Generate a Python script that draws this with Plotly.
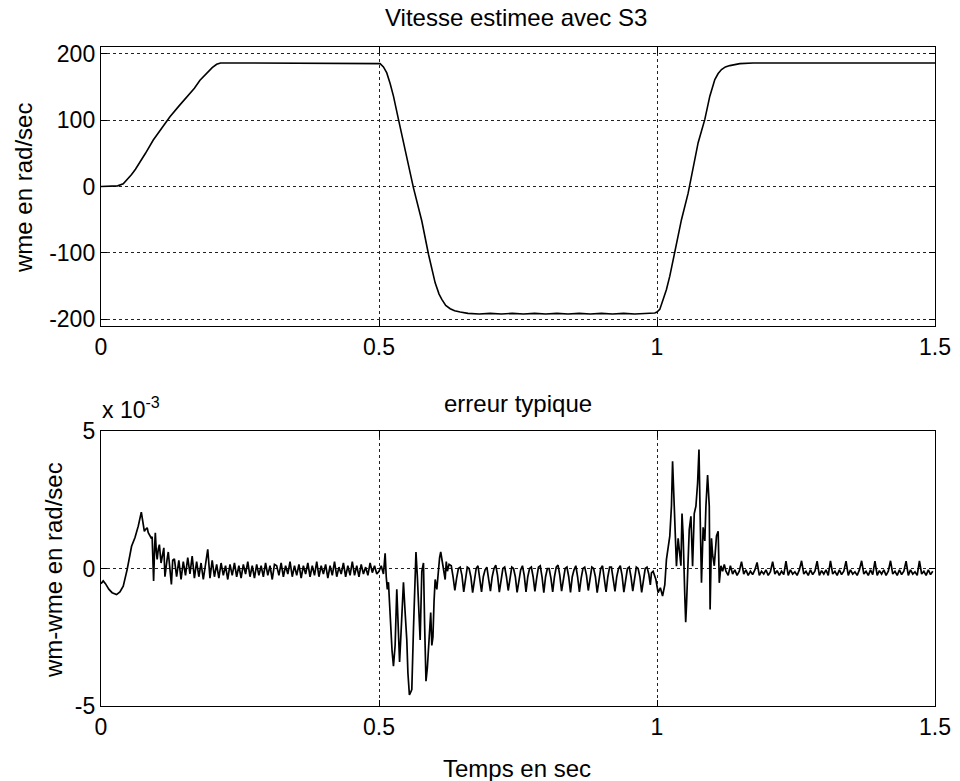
import numpy as np
import plotly.graph_objects as go

# ---------------- estimated speed (rad/sec) ----------------
t_speed = [0.0, 0.02, 0.03, 0.04, 0.047, 0.055, 0.062, 0.07, 0.08, 0.094, 0.11, 0.124,
           0.14, 0.155, 0.168, 0.178, 0.19, 0.2, 0.208, 0.215, 0.225, 0.3, 0.4, 0.495,
           0.502, 0.508, 0.514, 0.52, 0.526, 0.535, 0.547, 0.562, 0.577, 0.589, 0.601,
           0.608, 0.613, 0.62, 0.628, 0.636, 0.646, 0.66,
           0.68, 0.70, 0.72, 0.74, 0.76, 0.78, 0.80, 0.82, 0.84, 0.86, 0.88, 0.90,
           0.92, 0.94, 0.96, 0.98, 0.996,
           1.0, 1.005, 1.011, 1.017, 1.023, 1.032, 1.044, 1.056, 1.065, 1.074, 1.086,
           1.095, 1.104, 1.11, 1.116, 1.123, 1.131, 1.149, 1.173, 1.3, 1.5]
w_speed = [0, 0, 1, 4, 10, 18, 26, 36, 50, 70, 88, 105,
           121, 135, 148, 160, 171, 179, 184, 186, 186, 186, 186, 186,
           185, 180, 171, 155, 136, 101, 56, -2, -52, -102, -145,
           -162, -170, -179, -184, -187, -189, -191,
           -192, -191, -192, -191, -192, -191, -192, -191, -192, -191, -192, -191,
           -192, -191, -192, -191, -190.5,
           -189, -185, -170, -155, -135, -100, -50, -10, 30, 66, 101,
           136, 161, 170, 176, 180, 182, 185, 186, 186, 186]

# ---------------- estimation error (x 1e-3 rad/sec) ----------------
# start-up transient
t_err_a = [0.0, 0.004, 0.008, 0.014, 0.02, 0.028, 0.034, 0.04, 0.047, 0.055, 0.061, 0.067,
           0.0725, 0.0755, 0.078, 0.08, 0.083, 0.085, 0.087, 0.09, 0.092, 0.0946, 0.0965,
           0.0977, 0.0995, 0.101, 0.103, 0.105, 0.108, 0.11, 0.113, 0.115, 0.117, 0.119,
           0.121, 0.124, 0.1266, 0.129]
err_a = [-0.55, -0.45, -0.55, -0.75, -0.88, -0.95, -0.85, -0.64, -0.04, 0.81, 1.12, 1.54,
         2.05, 1.66, 1.35, 1.42, 1.48, 1.30, 1.24, 1.12, 1.15, -0.45, 0.80,
         1.30, 0.60, 0.33, 0.70, 0.87, 0.20, 0.40, 0.75, -0.30, 0.10, 0.35,
         0.60, 0.00, -0.58, 0.30]

# steady state at +186 rad/sec (sampled every 4 ms from t = 0.132)
err_b = [0.35, -0.30, 0.30, -0.40, 0.25, -0.25, 0.40, -0.20, 0.45, -0.35, 0.25, -0.30,
         0.20, -0.40, 0.25, 0.70,
         -0.35, 0.30, -0.30, 0.15, -0.35, 0.20, -0.25, 0.10, -0.40, 0.15, -0.25, 0.20,
         -0.30, 0.10, -0.35, 0.15, -0.20, 0.25, -0.30, 0.10, -0.35, 0.15, -0.25, 0.10,
         -0.30, 0.20, -0.25, 0.10, -0.40, 0.15,
         0.10, -0.25, 0.20, -0.30, 0.10, -0.20, 0.25, -0.30, 0.10, -0.25, 0.15, -0.35,
         0.10, -0.20, 0.20, -0.30, 0.10, -0.25, 0.25, -0.30, 0.10, -0.20, 0.15, -0.35,
         0.10, -0.25, 0.25, -0.30, 0.05, -0.20, 0.20, -0.30, 0.10, -0.25, 0.25, -0.25,
         0.10, -0.30, 0.15, -0.20, 0.05, -0.25, 0.20, -0.15, 0.10, -0.20]

# reversal +186 -> -190
t_err_c = [0.500, 0.504, 0.508, 0.511, 0.513, 0.515, 0.517, 0.519, 0.521, 0.5235, 0.526,
           0.529, 0.532, 0.535, 0.537, 0.539, 0.541, 0.544, 0.547, 0.550, 0.552, 0.5547,
           0.557, 0.559, 0.562, 0.564, 0.5665, 0.569, 0.572, 0.574, 0.577, 0.580, 0.582,
           0.5845, 0.587, 0.589, 0.591, 0.593, 0.595, 0.597, 0.599, 0.601, 0.604, 0.607,
           0.609, 0.611, 0.613, 0.615, 0.617, 0.619, 0.621, 0.623, 0.626]
err_c = [-0.10, 0.10, -0.20, 0.55, -0.30, -0.76, -0.50, -1.40, -2.20, -3.00, -3.55,
         -2.80, -0.76, -2.50, -3.40, -2.60, -1.90, -0.50, -1.60, -2.60, -3.80, -4.60,
         -4.50, -4.40, -2.20, -1.00, 0.60, -0.30, -1.80, -2.60, -0.10, 0.20, -2.00,
         -4.10, -3.60, -3.00, -2.20, -1.60, -2.80, -2.50, -1.20, -0.40, -0.76, 0.10,
         0.40, 0.60, 0.30, 0.20, -0.20, -0.40, 0.25, -0.10, 0.15]

# steady state at -190 rad/sec (sampled every 3.2 ms from t = 0.630)
err_d = [0.10, -0.30, -0.80, -0.35, 0.00,
         0.05, -0.25, -0.85, -0.30, 0.05,
         0.00, -0.30, -0.88, -0.35, 0.00,
         0.10, -0.30, -0.85, -0.30, -0.05,
         0.05, -0.35, -0.82, -0.30, 0.00,
         0.12, -0.25, -0.86, -0.35, 0.00,
         0.05, -0.30, -0.80, -0.30, 0.05,
         0.00, -0.30, -0.87, -0.35, -0.05,
         0.10, -0.25, -0.85, -0.30, 0.00,
         0.05, -0.30, -0.83, -0.35, 0.05,
         0.10, -0.30, -0.88, -0.30, 0.00,
         0.00, -0.35, -0.85, -0.30, 0.05,
         0.12, -0.25, -0.82, -0.35, 0.00,
         0.05, -0.30, -0.87, -0.30, -0.05,
         0.10, -0.30, -0.85, -0.35, 0.00,
         0.05, -0.25, -0.80, -0.30, 0.05,
         0.00, -0.30, -0.88, -0.35, 0.00,
         0.10, -0.30, -0.85, -0.30, 0.05,
         0.05, -0.35, -0.83, -0.30, 0.00,
         0.10, -0.25, -0.86, -0.35, 0.00,
         0.05, -0.30, -0.82, -0.30, 0.05,
         0.00, -0.30, -0.87, -0.35, 0.00,
         0.05, -0.20]

# reversal -190 -> +186
t_err_e = [0.988, 0.990, 0.993, 0.998, 1.002, 1.006, 1.010, 1.014, 1.017, 1.020, 1.023,
           1.026, 1.028, 1.031, 1.033, 1.035, 1.038, 1.041, 1.043, 1.045, 1.047, 1.050,
           1.0516, 1.053, 1.056, 1.058, 1.061, 1.064, 1.067, 1.070, 1.073, 1.0755, 1.078,
           1.080, 1.083, 1.086, 1.088, 1.091, 1.094, 1.0955, 1.098, 1.100, 1.103, 1.105,
           1.107, 1.110, 1.112, 1.115, 1.118, 1.121]
err_e = [-0.60, -0.16, -0.10, -0.40, -0.88, -0.70, -1.00, -0.60, 0.33, 0.81, 1.18,
         2.27, 3.90, 2.27, 1.18, 0.08, 1.10, 0.60, 0.10, 2.00, 1.20, -1.00,
         -1.95, -1.35, 0.08, 1.42, 1.90, 0.08, 2.00, 2.27, 3.10, 4.33, 1.50,
         -0.52, 1.50, 1.00, 2.27, 3.40, 2.27, -1.49, 1.10, 0.50, 0.10, 0.90,
         1.18, 1.35, -0.52, 0.10, -0.10, 0.15]

# steady state at +186 rad/sec (sampled every 4 ms from t = 1.124)
err_f = [-0.10, -0.25, 0.10, -0.20, -0.05, -0.25, -0.10,
         0.25, -0.20, -0.05, -0.25, -0.10, -0.22, -0.05,
         0.22, -0.25, -0.10, -0.20, -0.05, -0.25, -0.12,
         0.25, -0.20, -0.08, -0.25, -0.10, -0.22,
         0.27, -0.25, -0.05, -0.20, -0.12, -0.25, -0.05,
         0.28, -0.20, -0.10, -0.25, -0.05, -0.22, -0.10,
         0.27, -0.25, -0.08, -0.20, -0.05, -0.25,
         0.28, -0.20, -0.10, -0.25, -0.05, -0.22, -0.10,
         0.27, -0.25, -0.05, -0.20, -0.12, -0.25, -0.05,
         0.28, -0.20, -0.10, -0.25, -0.05, -0.22,
         0.27, -0.25, -0.08, -0.20, -0.05, -0.25, -0.10,
         0.28, -0.20, -0.10, -0.25, -0.05, -0.22, -0.10,
         0.27, -0.25, -0.05, -0.20, -0.12, -0.25,
         0.28, -0.20, -0.10, -0.25, -0.05, -0.22, -0.10]

x_ticks = [0, 0.5, 1, 1.5]
x_ticktext = ["0", "0.5", "1", "1.5"]
y1_ticks = [-200, -100, 0, 100, 200]
y1_ticktext = ["-200", "-100", "0", "100", "200"]
y2_ticks = [-5, 0, 5]
y2_ticktext = ["-5", "0", "5"]

# sample times of the uniformly sampled stretches
t_err_b = 0.132 + 0.004 * np.arange(len(err_b))
t_err_d = 0.630 + 0.0032 * np.arange(len(err_d))
t_err_f = 1.124 + 0.004 * np.arange(len(err_f))

t_err = np.concatenate([t_err_a, t_err_b, t_err_c, t_err_d, t_err_e, t_err_f])
err = np.concatenate([err_a, err_b, err_c, err_d, err_e, err_f])

FONT = "Liberation Sans, Arial, Helvetica, sans-serif"
W, H = 960, 781
LEFT, RIGHT = 101, 935
TOP1, BOT1 = 47, 326
TOP2, BOT2 = 431, 706


def px_x(px):
    return px / W


def px_y(py):
    return 1 - py / H


fig = go.Figure()
fig.add_trace(go.Scatter(x=t_speed, y=w_speed, mode="lines",
                         line=dict(color="black", width=1.6),
                         xaxis="x", yaxis="y", showlegend=False))
fig.add_trace(go.Scatter(x=t_err, y=err, mode="lines",
                         line=dict(color="black", width=1.7),
                         xaxis="x2", yaxis="y2", showlegend=False))

axis_style = dict(
    showline=True, linecolor="black", linewidth=1.4, mirror="allticks",
    ticks="inside", ticklen=6, tickwidth=1.3, tickcolor="black",
    showgrid=True, gridcolor="#222222", griddash="dot", gridwidth=1,
    zeroline=False, automargin=False,
    tickfont=dict(family=FONT, size=23, color="black"),
)

fig.update_layout(
    width=W, height=H,
    margin=dict(l=0, r=0, t=0, b=0),
    paper_bgcolor="white", plot_bgcolor="white",
    template="none",
    xaxis=dict(axis_style, domain=[px_x(LEFT), px_x(RIGHT)], range=[0, 1.5],
               tickvals=x_ticks, ticktext=x_ticktext, anchor="y"),
    yaxis=dict(axis_style, domain=[px_y(BOT1), px_y(TOP1)], range=[-210, 210],
               tickvals=y1_ticks, ticktext=y1_ticktext, anchor="x"),
    xaxis2=dict(axis_style, domain=[px_x(LEFT), px_x(RIGHT)], range=[0, 1.5],
                tickvals=x_ticks, ticktext=x_ticktext, anchor="y2"),
    yaxis2=dict(axis_style, domain=[px_y(BOT2), px_y(TOP2)], range=[-5, 5],
                tickvals=y2_ticks, ticktext=y2_ticktext, anchor="x2"),
)

text_font = dict(family=FONT, size=24, color="black")
annotations = [
    dict(text="Vitesse estimee avec S3", x=px_x(516), y=px_y(17)),
    dict(text="erreur typique", x=px_x(518), y=px_y(403)),
    dict(text="Temps en sec", x=px_x(517), y=px_y(768)),
    dict(text="wme en rad/sec", x=px_x(23), y=px_y(188), textangle=-90),
    dict(text="wm-wme en rad/sec", x=px_x(53), y=px_y(570), textangle=-90),
]
for a in annotations:
    fig.add_annotation(xref="paper", yref="paper", showarrow=False,
                       xanchor="center", yanchor="middle", font=text_font, **a)

fig.add_annotation(text="x 10<sup>-3</sup>", xref="paper", yref="paper",
                   x=px_x(100), y=px_y(408), xanchor="left", yanchor="middle",
                   showarrow=False, font=dict(family=FONT, size=23, color="black"))

fig.write_html("out.html")
